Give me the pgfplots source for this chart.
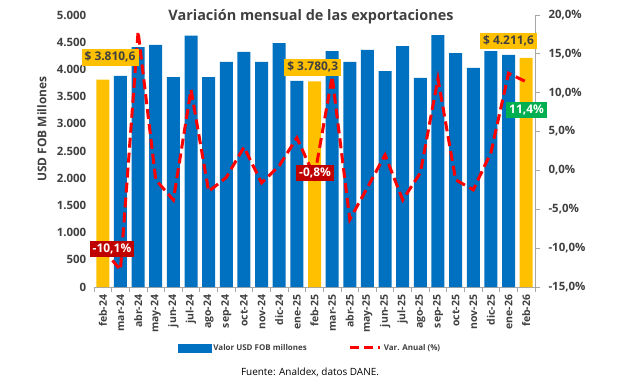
\documentclass[border=0pt]{standalone}
\usepackage{pgfplots}
\pgfplotsset{compat=1.18}
\usepackage{pgfplotstable}
\usepackage{fontspec}
\setmainfont{Open Sans}
\definecolor{cblue}{HTML}{0070C0}
\definecolor{cyel}{HTML}{FFC000}
\definecolor{cred}{HTML}{FF0000}
\definecolor{cdred}{HTML}{C00000}
\definecolor{cgreen}{HTML}{00B050}
\definecolor{ctext}{HTML}{404040}
\definecolor{caxis}{HTML}{A6A6A6}

\pgfplotstableread{
x v
1 3880
2 4410
3 4450
4 3860
5 4620
6 3860
7 4136
8 4320
9 4136
10 4485
11 3790
13 4338
14 4136
15 4357
16 3970
17 4430
18 3842
19 4632
20 4301
21 4026
22 4338
23 4265
}\bluebars

\pgfplotstableread{
x v
0 3810.6
12 3780.3
24 4211.6
}\yellowbars

\pgfplotstableread{
x p
0 -10.1
1 -12.8
2 17.9
3 -1.2
4 -3.8
5 10.4
6 -2.7
7 -0.9
8 3.0
9 -1.6
10 0.6
11 4.2
12 -0.8
13 12.1
14 -6.3
15 -2.2
16 2.0
17 -3.8
18 -0.3
19 11.8
20 -1.2
21 -2.5
22 2.3
23 12.5
24 11.4
}\varline

\begin{document}
\begin{tikzpicture}[x=1bp,y=1bp]
\useasboundingbox (0,0) rectangle (636,387);
\begin{axis}[
  at={(94bp,100bp)}, anchor=south west,
  scale only axis, width=441bp, height=272bp,
  xmin=-0.5, xmax=24.5, ymin=0, ymax=5000,
  axis x line*=bottom, axis y line*=left,
  y axis line style={draw=none},
  x axis line style={draw=caxis, line width=0.8bp},
  ytick distance=500, scaled y ticks=false,
  /pgf/number format/1000 sep={.},
  /pgf/number format/assume math mode=true,
  ytick style={draw=none},
  xtick={0,...,24},
  xticklabels={feb-24,mar-24,abr-24,may-24,jun-24,jul-24,ago-24,sep-24,oct-24,nov-24,dic-24,ene-25,feb-25,mar-25,abr-25,may-25,jun-25,jul-25,ago-25,sep-25,oct-25,nov-25,dic-25,ene-26,feb-26},
  major x tick style={draw=none},
  minor xtick={-0.5,0.5,...,24.5},
  minor x tick style={draw=caxis, line width=0.8bp},
  minor tick length=5bp, tick align=outside,
  x tick label style={rotate=90, anchor=east, font=\bfseries\fontsize{10.5}{12}\selectfont, text=ctext},
  y tick label style={font=\bfseries\fontsize{11.5}{13}\selectfont, text=ctext},
  ylabel={USD FOB Millones},
  ylabel style={at={(-0.118,0.58)}, anchor=center, rotate=0, font=\bfseries\fontsize{12}{14}\selectfont, text=ctext},
]
\addplot[ybar, bar width=13bp, bar shift=0pt, fill=cblue, draw=none] table[x=x,y=v]{\bluebars};
\addplot[ybar, bar width=13bp, bar shift=0pt, fill=cyel, draw=none] table[x=x,y=v]{\yellowbars};
\end{axis}
\begin{axis}[
  at={(94bp,100bp)}, anchor=south west,
  scale only axis, width=441bp, height=272bp,
  xmin=-0.5, xmax=24.5, ymin=-15, ymax=20,
  axis y line*=right, axis x line=none,
  y axis line style={draw=caxis, line width=0.8bp},
  ytick distance=5,
  ytick style={draw=caxis, line width=0.8bp},
  major tick length=5bp, tick align=outside,
  /pgf/number format/assume math mode=true,
  yticklabel={\pgfmathprintnumber[fixed,fixed zerofill,precision=1,use comma]{\tick}\%},
  y tick label style={font=\bfseries\fontsize{11.5}{13}\selectfont, text=ctext, xshift=5bp},
  clip=false,
  legend style={at={(0.49,-0.224)}, anchor=center, draw=none, fill=none,
    font=\bfseries\fontsize{8}{10}\selectfont, text=ctext,
    /tikz/every even column/.append style={column sep=40bp}},
  legend columns=2,
]
\addlegendimage{legend image code/.code={\fill[cblue] (0bp,-4bp) rectangle (33bp,4bp);}}
\addlegendentry{Valor USD FOB millones}
\addplot[cred, line width=3bp, dash pattern=on 10bp off 5bp,
  legend image code/.code={\draw[cred, line width=3bp, dash pattern=on 9bp off 5bp] (0bp,0bp) -- (30bp,0bp);}] table[x=x,y=p]{\varline};
\addlegendentry{Var. Anual (\%)}
\node[fill=cyel, text=ctext, font=\bfseries\fontsize{12}{14}\selectfont, inner sep=3bp] at (axis cs:0.41,14.57) {\$ 3.810,6};
\node[fill=cyel, text=ctext, font=\bfseries\fontsize{12}{14}\selectfont, inner sep=3bp] at (axis cs:11.9,13.28) {\$ 3.780,3};
\node[fill=cyel, text=ctext, font=\bfseries\fontsize{12}{14}\selectfont, inner sep=3bp] at (axis cs:23.0,16.64) {\$ 4.211,6};
\node[fill=cdred, text=white, font=\bfseries\fontsize{12}{14}\selectfont, inner sep=3bp] at (axis cs:0.52,-10.09) {-10,1\%};
\node[fill=cdred, text=white, font=\bfseries\fontsize{12}{14}\selectfont, inner sep=3bp] at (axis cs:12.03,-0.28) {-0,8\%};
\node[fill=cgreen, text=white, font=\bfseries\fontsize{12}{14}\selectfont, inner sep=3bp] at (axis cs:24.02,7.8) {11,4\%};
\end{axis}
\node[font=\bfseries\fontsize{14.5}{17}\selectfont, text=ctext] at (311,370) {Variación mensual de las exportaciones};
\node[font=\fontsize{10}{12}\selectfont, text=black] at (310,15) {Fuente: Analdex, datos DANE.};
\end{tikzpicture}
\end{document}
